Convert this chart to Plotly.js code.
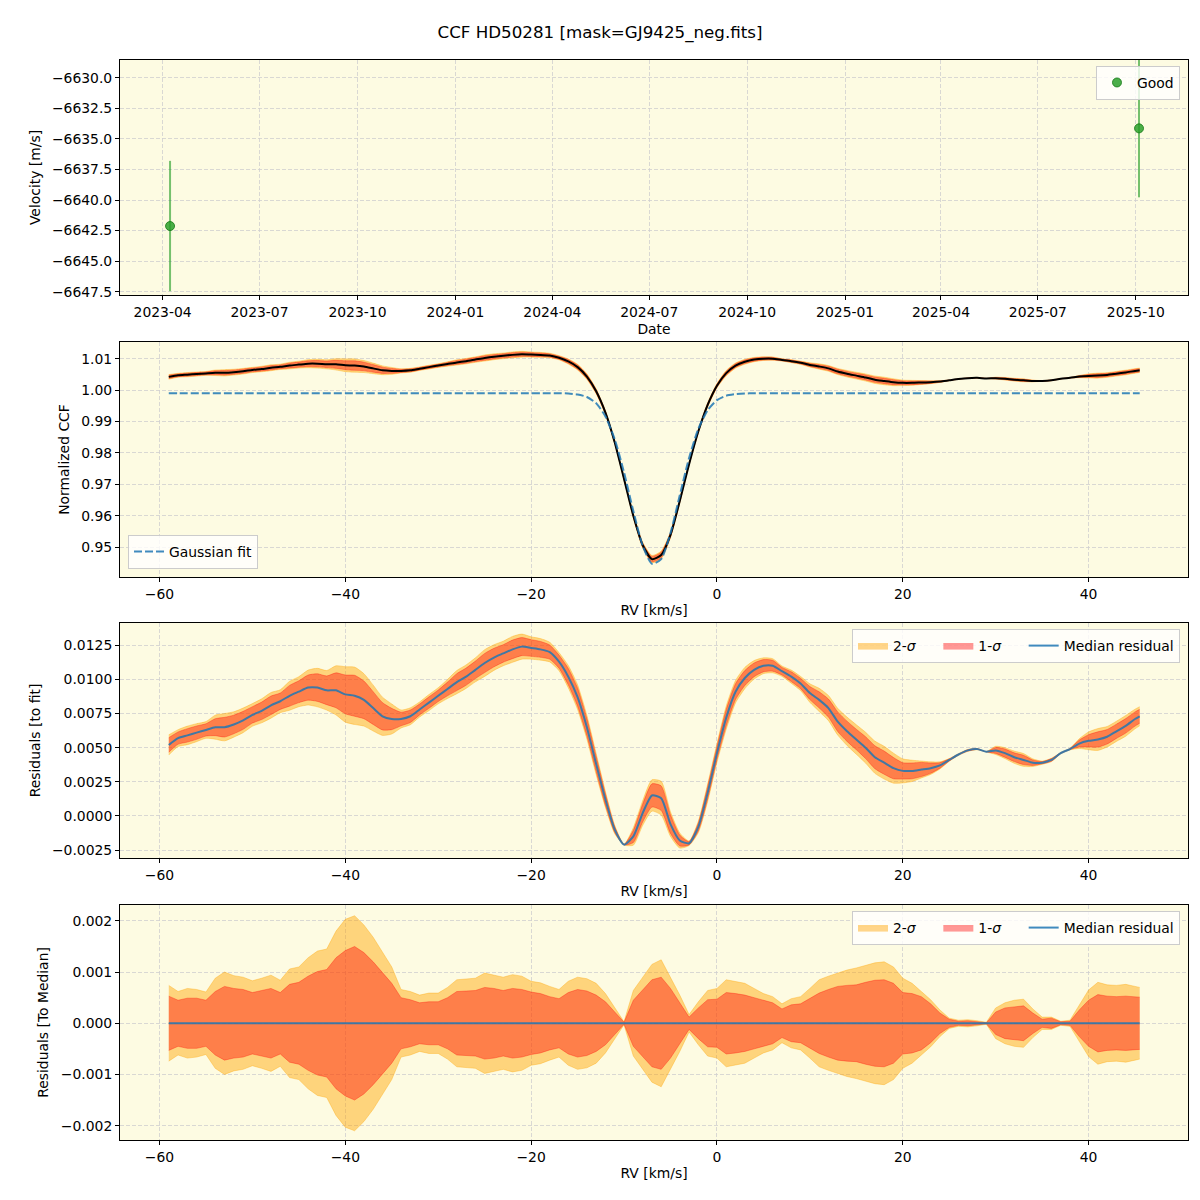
<!DOCTYPE html>
<html>
<head>
<meta charset="utf-8">
<script src="https://cdn.plot.ly/plotly-3.0.1.min.js"></script>
<style>
  html, body { margin: 0; padding: 0; background: #ffffff; }
  #chart { width: 1200px; height: 1200px; }
</style>
</head>
<body>
<div id="chart"></div>
<script>
// Radial-velocity measurements (top panel)
const obsDates = ['2023-04-08', '2025-10-04'];
const obsVel = [-6642.13, -6634.14];
const obsErr = [5.33, 5.64];

// RV sampling grid [km/s]
const rv = [-59, -58, -57, -56, -55, -54, -53, -52, -51, -50,
  -49, -48, -47, -46, -45, -44, -43, -42, -41, -40,
  -39, -38, -37, -36, -35, -34, -33, -32, -31, -30,
  -29, -28, -27, -26, -25, -24, -23, -22, -21, -20,
  -19, -18, -17, -16, -15, -14, -13, -12, -11, -10,
  -9, -8, -7, -6, -5, -4, -3, -2, -1, 0,
  1, 2, 3, 4, 5, 6, 7, 8, 9, 10,
  11, 12, 13, 14, 15, 16, 17, 18, 19, 20,
  21, 22, 23, 24, 25, 26, 27, 28, 29, 30,
  31, 32, 33, 34, 35, 36, 37, 38, 39, 40,
  41, 42, 43, 44, 45, 45.5];

// Normalized CCF (median profile)
const ccf = [1.0042, 1.0047, 1.0049, 1.0051, 1.0053, 1.0055, 1.0055, 1.0057, 1.0060, 1.0064,
  1.0067, 1.0071, 1.0074, 1.0078, 1.0081, 1.0084, 1.0084, 1.0082, 1.0082, 1.0079,
  1.0078, 1.0075, 1.0069, 1.0063, 1.0061, 1.0061, 1.0063, 1.0068, 1.0073, 1.0078,
  1.0083, 1.0088, 1.0092, 1.0097, 1.0102, 1.0106, 1.0109, 1.0112, 1.0114, 1.0113,
  1.0112, 1.0110, 1.0103, 1.0091, 1.0073, 1.0043, 0.9996, 0.9928, 0.9833, 0.9717,
  0.9600, 0.9507, 0.9462, 0.9475, 0.9539, 0.9647, 0.9764, 0.9869, 0.9953, 1.0014,
  1.0054, 1.0078, 1.0090, 1.0097, 1.0100, 1.0100, 1.0096, 1.0092, 1.0087, 1.0080,
  1.0075, 1.0069, 1.0059, 1.0052, 1.0046, 1.0040, 1.0033, 1.0029, 1.0025, 1.0023,
  1.0023, 1.0024, 1.0025, 1.0027, 1.0031, 1.0035, 1.0038, 1.0039, 1.0037, 1.0038,
  1.0036, 1.0033, 1.0031, 1.0029, 1.0029, 1.0031, 1.0036, 1.0039, 1.0043, 1.0045,
  1.0046, 1.0048, 1.0052, 1.0056, 1.0061, 1.0063];

// Gaussian fit to the CCF
const gaussFit = [0.9990, 0.9990, 0.9990, 0.9990, 0.9990, 0.9990, 0.9990, 0.9990, 0.9990, 0.9990,
  0.9990, 0.9990, 0.9990, 0.9990, 0.9990, 0.9990, 0.9990, 0.9990, 0.9990, 0.9990,
  0.9990, 0.9990, 0.9990, 0.9990, 0.9990, 0.9990, 0.9990, 0.9990, 0.9990, 0.9990,
  0.9990, 0.9990, 0.9990, 0.9990, 0.9990, 0.9990, 0.9990, 0.9990, 0.9990, 0.9990,
  0.9990, 0.9990, 0.9990, 0.9989, 0.9986, 0.9978, 0.9958, 0.9916, 0.9843, 0.9738,
  0.9615, 0.9505, 0.9447, 0.9462, 0.9545, 0.9665, 0.9784, 0.9877, 0.9936, 0.9968,
  0.9982, 0.9987, 0.9989, 0.9990, 0.9990, 0.9990, 0.9990, 0.9990, 0.9990, 0.9990,
  0.9990, 0.9990, 0.9990, 0.9990, 0.9990, 0.9990, 0.9990, 0.9990, 0.9990, 0.9990,
  0.9990, 0.9990, 0.9990, 0.9990, 0.9990, 0.9990, 0.9990, 0.9990, 0.9990, 0.9990,
  0.9990, 0.9990, 0.9990, 0.9990, 0.9990, 0.9990, 0.9990, 0.9990, 0.9990, 0.9990,
  0.9990, 0.9990, 0.9990, 0.9990, 0.9990, 0.9990];

// Median residual of the CCF with respect to the fit
const medianResid = [0.0052, 0.0057, 0.0059, 0.0061, 0.0063, 0.0065, 0.0065, 0.0067, 0.0070, 0.0074,
  0.0077, 0.0081, 0.0084, 0.0088, 0.0091, 0.0094, 0.0094, 0.0092, 0.0092, 0.0089,
  0.0088, 0.0085, 0.0079, 0.0073, 0.0071, 0.0071, 0.0073, 0.0078, 0.0083, 0.0088,
  0.0093, 0.0098, 0.0102, 0.0107, 0.0112, 0.0116, 0.0119, 0.0122, 0.0124, 0.0123,
  0.0122, 0.0120, 0.0113, 0.0102, 0.0087, 0.0065, 0.0038, 0.0012, -0.0010, -0.0021,
  -0.0015, 0.0002, 0.0015, 0.0013, -0.0006, -0.0018, -0.0020, -0.0008, 0.0017, 0.0046,
  0.0072, 0.0091, 0.0101, 0.0107, 0.0110, 0.0110, 0.0106, 0.0102, 0.0097, 0.0090,
  0.0085, 0.0079, 0.0069, 0.0062, 0.0056, 0.0050, 0.0043, 0.0039, 0.0035, 0.0033,
  0.0033, 0.0034, 0.0035, 0.0037, 0.0041, 0.0045, 0.0048, 0.0049, 0.0047, 0.0048,
  0.0046, 0.0043, 0.0041, 0.0039, 0.0039, 0.0041, 0.0046, 0.0049, 0.0053, 0.0055,
  0.0056, 0.0058, 0.0062, 0.0066, 0.0071, 0.0073];

// Half-widths of the 1-sigma and 2-sigma spread around the median
const sigma1 = [0.00053, 0.00045, 0.00049, 0.00049, 0.00045, 0.00062, 0.00072, 0.00068, 0.00066, 0.00060,
  0.00064, 0.00068, 0.00060, 0.00076, 0.00080, 0.00092, 0.00101, 0.00105, 0.00128, 0.00142,
  0.00150, 0.00138, 0.00120, 0.00100, 0.00078, 0.00050, 0.00046, 0.00040, 0.00042, 0.00042,
  0.00050, 0.00062, 0.00063, 0.00064, 0.00070, 0.00068, 0.00064, 0.00068, 0.00066, 0.00061,
  0.00058, 0.00052, 0.00048, 0.00060, 0.00066, 0.00063, 0.00055, 0.00042, 0.00022, 0.00002,
  0.00045, 0.00065, 0.00085, 0.00090, 0.00068, 0.00040, 0.00012, 0.00030, 0.00046, 0.00047,
  0.00060, 0.00058, 0.00055, 0.00050, 0.00045, 0.00040, 0.00028, 0.00036, 0.00038, 0.00048,
  0.00059, 0.00066, 0.00072, 0.00074, 0.00075, 0.00080, 0.00084, 0.00085, 0.00078, 0.00060,
  0.00058, 0.00052, 0.00038, 0.00020, 0.00008, 0.00004, 0.00005, 0.00003, 0.00001, 0.00022,
  0.00030, 0.00032, 0.00034, 0.00020, 0.00008, 0.00010, 0.00003, 0.00004, 0.00026, 0.00045,
  0.00056, 0.00053, 0.00052, 0.00053, 0.00052, 0.00051];

const sigma2 = [0.00074, 0.00062, 0.00068, 0.00066, 0.00061, 0.00088, 0.00100, 0.00093, 0.00090, 0.00083,
  0.00088, 0.00094, 0.00084, 0.00106, 0.00110, 0.00128, 0.00141, 0.00145, 0.00180, 0.00203,
  0.00210, 0.00192, 0.00168, 0.00140, 0.00110, 0.00066, 0.00062, 0.00055, 0.00059, 0.00059,
  0.00070, 0.00085, 0.00086, 0.00088, 0.00098, 0.00094, 0.00090, 0.00095, 0.00092, 0.00082,
  0.00079, 0.00072, 0.00066, 0.00082, 0.00090, 0.00087, 0.00078, 0.00058, 0.00030, 0.00003,
  0.00064, 0.00090, 0.00115, 0.00124, 0.00090, 0.00055, 0.00017, 0.00042, 0.00064, 0.00068,
  0.00085, 0.00082, 0.00078, 0.00068, 0.00058, 0.00052, 0.00038, 0.00048, 0.00052, 0.00068,
  0.00085, 0.00092, 0.00098, 0.00104, 0.00108, 0.00113, 0.00118, 0.00120, 0.00110, 0.00088,
  0.00078, 0.00062, 0.00046, 0.00026, 0.00010, 0.00006, 0.00007, 0.00005, 0.00002, 0.00030,
  0.00040, 0.00045, 0.00047, 0.00028, 0.00012, 0.00012, 0.00004, 0.00006, 0.00036, 0.00065,
  0.00080, 0.00075, 0.00074, 0.00076, 0.00072, 0.00070];

// ---------- styling ----------
const BG = '#fdfbe2';
const C_2S = 'rgba(255,165,0,0.45)';
const C_1S = 'rgba(255,0,0,0.40)';
const C_MED = 'rgba(31,119,180,0.85)';
const FS = 13.9;
const PAD = '\u00a0\u00a0\u00a0\u00a0';   // extra room after short legend labels

const add = (a, b, s) => a.map((v, i) => v + s * b[i]);

function bandTraces(center, xa, ya, legendId, showLeg, shape) {
  const t = [];
  const mk = (y, name, col, fill, leg) => ({
    x: rv, y: y, type: 'scatter', mode: 'lines', xaxis: xa, yaxis: ya,
    line: { color: col, width: 0.8, shape: shape, smoothing: 0.6 },
    fill: fill, fillcolor: col, name: name, showlegend: leg,
    legend: legendId, hoverinfo: 'skip'
  });
  t.push(mk(add(center, sigma2, -1), '2-<i>σ</i>' + PAD, C_2S, 'none', false));
  t.push(mk(add(center, sigma2, 1), '2-<i>σ</i>' + PAD, C_2S, 'tonexty', showLeg));
  t.push(mk(add(center, sigma1, -1), '1-<i>σ</i>' + PAD, C_1S, 'none', false));
  t.push(mk(add(center, sigma1, 1), '1-<i>σ</i>' + PAD, C_1S, 'tonexty', showLeg));
  return t;
}

const traces = [];

// Panel 1: velocity time series
traces.push({
  x: obsDates, y: obsVel, type: 'scatter', mode: 'markers', name: 'Good',
  xaxis: 'x', yaxis: 'y', legend: 'legend',
  marker: { size: 9, color: 'rgba(44,160,44,0.85)', line: { width: 1, color: 'rgba(20,120,20,0.8)' } },
  error_y: { type: 'data', array: obsErr, visible: true, color: 'rgba(44,160,44,0.65)', thickness: 2, width: 0 }
});

// Panel 2: CCF with fit
traces.push(...bandTraces(ccf, 'x2', 'y2', 'legend2', false, 'spline'));
traces.push({
  x: rv, y: ccf, type: 'scatter', mode: 'lines', xaxis: 'x2', yaxis: 'y2',
  line: { color: '#000000', width: 2, shape: 'spline', smoothing: 0.6 },
  showlegend: false, legend: 'legend2', name: 'CCF'
});
traces.push({
  x: rv, y: gaussFit, type: 'scatter', mode: 'lines', xaxis: 'x2', yaxis: 'y2',
  line: { color: C_MED, width: 2, dash: '8px,3px', shape: 'spline', smoothing: 0.6 },
  name: 'Gaussian fit', legend: 'legend2'
});

// Panel 3: residuals to the fit
traces.push(...bandTraces(medianResid, 'x3', 'y3', 'legend3', true, 'spline'));
traces.push({
  x: rv, y: medianResid, type: 'scatter', mode: 'lines', xaxis: 'x3', yaxis: 'y3',
  line: { color: C_MED, width: 2, shape: 'spline', smoothing: 0.6 },
  name: 'Median residual', legend: 'legend3'
});

// Panel 4: residuals to the median
const toMedian = add(medianResid, medianResid, -1);
traces.push(...bandTraces(toMedian, 'x4', 'y4', 'legend4', true, 'linear'));
traces.push({
  x: rv, y: toMedian, type: 'scatter', mode: 'lines', xaxis: 'x4', yaxis: 'y4',
  line: { color: C_MED, width: 2 },
  name: 'Median residual', legend: 'legend4'
});

const axBase = {
  showline: true, mirror: true, linecolor: '#000000', linewidth: 1,
  ticks: 'outside', ticklen: 4, tickwidth: 1, tickcolor: '#000000',
  showgrid: true, gridcolor: '#cfcfcf', gridwidth: 0.8, griddash: '4px,2px',
  zeroline: false, tickfont: { size: FS, color: '#000000' }
};
const rvAxis = (anchor, title) => Object.assign({}, axBase, {
  anchor: anchor, domain: [0, 1], range: [-64.25, 50.7], dtick: 20, tick0: 0,
  title: { text: title, font: { size: FS }, standoff: 4 }
});
const yAxis = (anchor, dom, range, dtick, tick0, fmt, title, standoff) => Object.assign({}, axBase, {
  anchor: anchor, domain: dom, range: range, dtick: dtick, tick0: tick0, tickformat: fmt,
  title: { text: title, font: { size: FS }, standoff: standoff }
});

const legendBase = {
  bgcolor: 'rgba(255,255,255,0.8)', bordercolor: '#cccccc', borderwidth: 1,
  font: { size: FS, color: '#000000' }, traceorder: 'normal'
};

const layout = {
  width: 1200, height: 1200,
  paper_bgcolor: '#ffffff', plot_bgcolor: BG,
  font: { family: 'DejaVu Sans, sans-serif', size: FS, color: '#000000' },
  margin: { l: 120, r: 12, t: 60, b: 60 },
  title: {
    text: 'CCF HD50281 [mask=GJ9425_neg.fits]', font: { size: 16.7 },
    x: 0.5, xref: 'container', xanchor: 'center',
    y: 1 - 32 / 1200, yref: 'container', yanchor: 'middle'
  },
  xaxis: Object.assign({}, axBase, {
    anchor: 'y', domain: [0, 1], type: 'date',
    range: ['2023-02-20', '2025-11-19'], dtick: 'M3', tick0: '2023-01-01',
    tickformat: '%Y-%m', title: { text: 'Date', font: { size: FS }, standoff: 5 }
  }),
  yaxis: yAxis('x', [0.78241, 1.0], [-6647.77, -6628.55], 2.5, -6630, '.1f', 'Velocity [m/s]', 8),
  xaxis2: rvAxis('y2', 'RV [km/s]'),
  yaxis2: yAxis('x2', [0.52130, 0.73889], [0.9405, 1.0153], 0.01, 1.0, '.2f', 'Normalized CCF', 8),
  xaxis3: rvAxis('y3', 'RV [km/s]'),
  yaxis3: yAxis('x3', [0.26111, 0.47870], [-0.00308, 0.01413], 0.0025, 0, '.4f', 'Residuals [to fit]', 8),
  xaxis4: rvAxis('y4', 'RV [km/s]'),
  yaxis4: yAxis('x4', [0, 0.21759], [-0.00228, 0.00231], 0.001, 0, '.3f', 'Residuals [To Median]', 8),
  legend: Object.assign({}, legendBase, { x: 0.9925, xanchor: 'right', y: 0.9945, yanchor: 'top' }),
  legend2: Object.assign({}, legendBase, { x: 0.0075, xanchor: 'left', y: 0.5287, yanchor: 'bottom' }),
  legend3: Object.assign({}, legendBase, { x: 0.9925, xanchor: 'right', y: 0.4731, yanchor: 'top', orientation: 'h' }),
  legend4: Object.assign({}, legendBase, { x: 0.9925, xanchor: 'right', y: 0.2120, yanchor: 'top', orientation: 'h' }),
  showlegend: true
};

Plotly.newPlot('chart', traces, layout, { staticPlot: true, displayModeBar: false });
</script>
</body>
</html>
